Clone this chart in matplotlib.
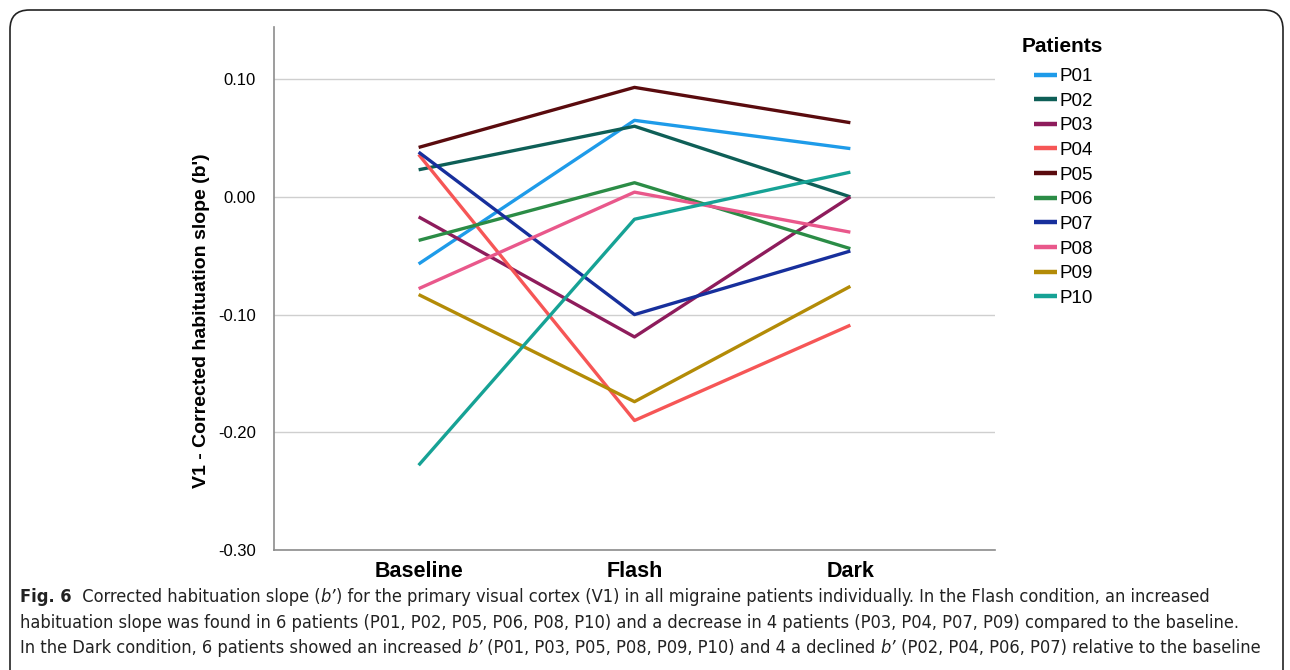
import matplotlib
matplotlib.use("Agg")
import matplotlib.pyplot as plt
from matplotlib.patches import FancyBboxPatch
from matplotlib.offsetbox import TextArea, HPacker, AnchoredOffsetbox
from matplotlib import font_manager

conditions = ["Baseline", "Flash", "Dark"]
patients = ["P01", "P02", "P03", "P04", "P05", "P06", "P07", "P08", "P09", "P10"]

p01 = [-0.057, 0.065, 0.041]
p02 = [0.023, 0.060, 0.000]
p03 = [-0.017, -0.119, 0.000]
p04 = [0.036, -0.190, -0.109]
p05 = [0.042, 0.093, 0.063]
p06 = [-0.037, 0.012, -0.044]
p07 = [0.038, -0.100, -0.046]
p08 = [-0.078, 0.004, -0.030]
p09 = [-0.083, -0.174, -0.076]
p10 = [-0.228, -0.019, 0.021]
series = [p01, p02, p03, p04, p05, p06, p07, p08, p09, p10]

colors = ["#1e9be9", "#0e5f57", "#8e1c5c", "#f65656", "#5a0b0e",
          "#2b8c46", "#172f9c", "#e9588b", "#b38b07", "#16a295"]

yticks = [-0.30, -0.20, -0.10, 0.00, 0.10]
ytick_labels = ["-0.30", "-0.20", "-0.10", "0.00", "0.10"]

W, H = 1290, 670
fig = plt.figure(figsize=(W / 100, H / 100), dpi=100)
fig.patch.set_facecolor("white")

# rounded frame
frame = FancyBboxPatch((10 / W, -0.2), (1283 - 10) / W, (H - 10) / H + 0.2,
                       boxstyle="round,pad=0,rounding_size=0.015",
                       transform=fig.transFigure, fill=False,
                       edgecolor="#222222", linewidth=1.2, mutation_aspect=W / H)
fig.patches.append(frame)

ax = fig.add_axes([274 / W, 1 - 550 / H, (995 - 274) / W, (550 - 27) / H])
x = list(range(len(conditions)))
for name, vals, c in zip(patients, series, colors):
    ax.plot(x, vals, color=c, lw=2.4, label=name, solid_capstyle="butt")

ax.set_xlim(-0.67, 2.67)
ax.set_ylim(-0.30, 0.1443)
ax.set_yticks(yticks)
ax.set_yticklabels(ytick_labels)
ax.set_xticks(x)
ax.set_xticklabels(conditions, fontweight="bold", fontsize=15.5)
ax.tick_params(axis="x", length=0, pad=8)
ax.tick_params(axis="y", length=0, pad=13, labelsize=12)
for lab in ax.get_yticklabels() + ax.get_xticklabels():
    lab.set_family("Liberation Sans")
ax.yaxis.grid(True, color="#cfcfcf", lw=1)
ax.set_axisbelow(True)
for s in ["top", "right"]:
    ax.spines[s].set_visible(False)
for s in ["left", "bottom"]:
    ax.spines[s].set_color("#8c8c8c")
    ax.spines[s].set_linewidth(1.2)
ax.set_ylabel("V1 - Corrected habituation slope (b')", fontsize=14,
              fontweight="bold", family="Liberation Sans")
ax.yaxis.set_label_coords(-0.089, 0.438)

# legend: title placed separately (entries indented under it)
fig.text(1022 / W, 1 - 46 / H, "Patients", family="Liberation Sans", size=15,
         weight="bold", ha="left", va="center")
leg = fig.legend(loc="upper left", bbox_to_anchor=(1034 / W, 1 - 68 / H),
                 frameon=False,
                 prop=font_manager.FontProperties(family="Liberation Sans", size=13.5),
                 handlelength=1.2, handletextpad=0.15, labelspacing=0.4,
                 borderaxespad=0, borderpad=0)
for h in leg.get_lines():
    h.set_linewidth(3.2)

# caption
cap_family = "DejaVu Sans"
cap_stretch = "condensed"

def ta(s, fs, weight="normal", style="normal"):
    return TextArea(s, textprops=dict(family=cap_family, stretch=cap_stretch, size=fs,
                                      weight=weight, style=style, color="#222222"))

def caption_lines(fs):
    return [
        [ta("Fig. 6", fs, weight="bold"), ta("  Corrected habituation slope (", fs),
         ta("b\u2019", fs, style="italic"),
         ta(") for the primary visual cortex (V1) in all migraine patients individually. In the Flash condition, an increased", fs)],
        [ta("habituation slope was found in 6 patients (P01, P02, P05, P06, P08, P10) and a decrease in 4 patients (P03, P04, P07, P09) compared to the baseline.", fs)],
        [ta("In the Dark condition, 6 patients showed an increased ", fs), ta("b\u2019", fs, style="italic"),
         ta(" (P01, P03, P05, P08, P09, P10) and 4 a declined ", fs), ta("b\u2019", fs, style="italic"),
         ta(" (P02, P04, P06, P07) relative to the baseline", fs)],
    ]

renderer = fig.canvas.get_renderer()
fs0 = 12.5
widths = []
for parts in caption_lines(fs0):
    test = HPacker(children=parts, align="baseline", pad=0, sep=0)
    test.set_figure(fig)
    widths.append(test.get_bbox(renderer).width)
fs = fs0 * 1250.0 / max(widths)

ys = [597, 623, 648]
for parts, yy in zip(caption_lines(fs), ys):
    box = HPacker(children=parts, align="baseline", pad=0, sep=0)
    anch = AnchoredOffsetbox(loc="center left", child=box, pad=0, borderpad=0,
                             frameon=False, bbox_to_anchor=(20 / W, 1 - yy / H),
                             bbox_transform=fig.transFigure)
    fig.add_artist(anch)

fig.savefig("out.png", dpi=100, facecolor="white")
